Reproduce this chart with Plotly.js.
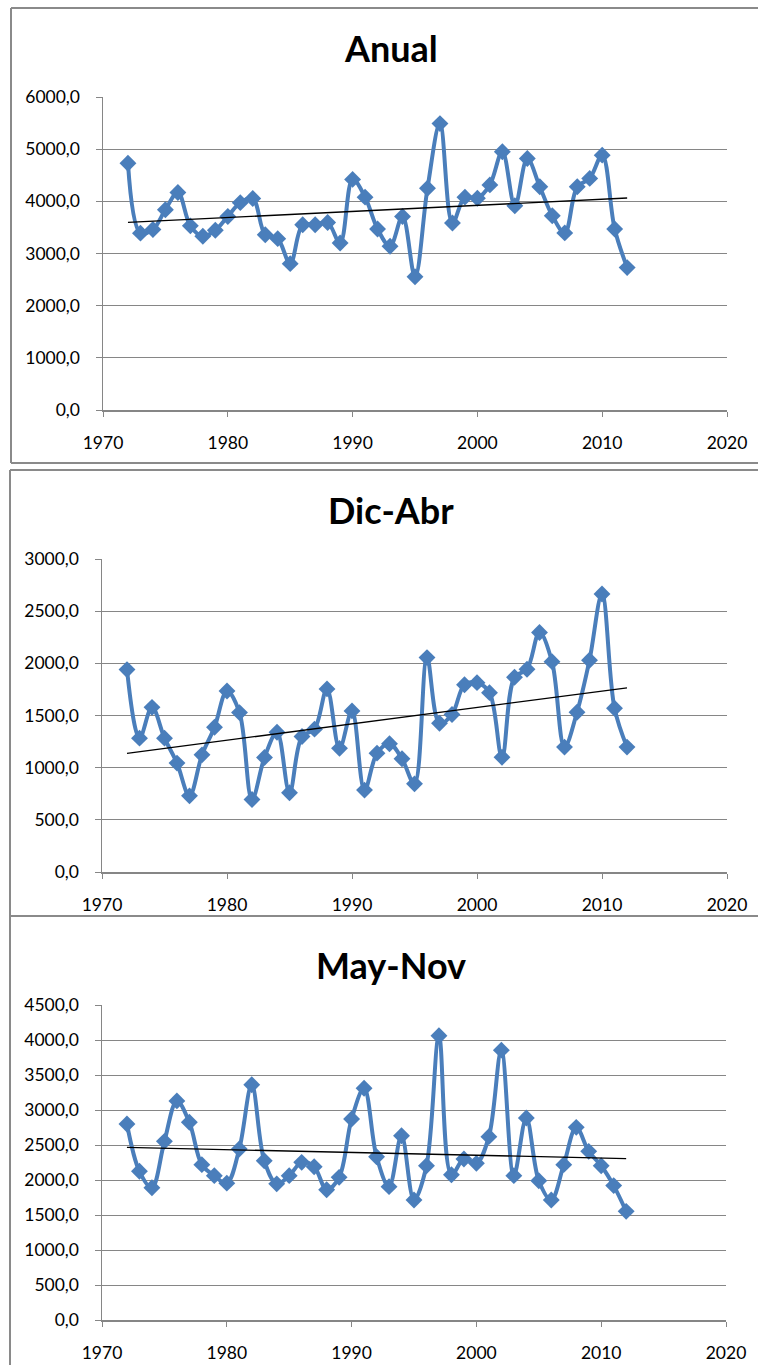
<!DOCTYPE html>
<html>
<head>
<meta charset="utf-8">
<script src="https://cdn.plot.ly/plotly-3.0.1.min.js"></script>
<style>html,body{margin:0;padding:0;background:#fff;}#chart{width:758px;height:1365px;}</style>
</head>
<body>
<div id="chart"></div>
<script>
const years = [1972,1973,1974,1975,1976,1977,1978,1979,1980,1981,1982,1983,1984,1985,1986,1987,1988,1989,1990,1991,1992,1993,1994,1995,1996,1997,1998,1999,2000,2001,2002,2003,2004,2005,2006,2007,2008,2009,2010,2011,2012];

const anual = [4730,3390,3460,3840,4170,3530,3330,3445,3710,3975,4055,3360,3285,2805,3550,3550,3595,3200,4420,4080,3470,3140,3710,2555,4250,5490,3585,4080,4060,4315,4950,3915,4820,4280,3725,3395,4280,4440,4885,3470,2730];

const dicAbr = [1940,1283,1578,1283,1044,730,1123,1388,1735,1528,695,1098,1340,760,1299,1369,1755,1185,1544,785,1139,1229,1085,845,2055,1425,1510,1795,1815,1719,1100,1866,1943,2295,2016,1197,1531,2030,2665,1570,1197];

const mayNov = [2800,2124,1890,2552,3130,2824,2219,2062,1955,2443,3360,2276,1945,2062,2252,2190,1860,2038,2871,3310,2333,1905,2633,1715,2204,4060,2076,2300,2238,2619,3855,2062,2886,1990,1715,2219,2752,2409,2204,1920,1552];

const titles = ["Anual", "Dic-Abr", "May-Nov"];
const yMax = [6000, 3000, 4500];
const yStep = [1000, 500, 500];
const xTicks = [1970, 1980, 1990, 2000, 2010, 2020];

const W = 758, H = 1365;
const fx = p => p / W;
const fy = p => 1 - p / H;

function linfit(xs, ys) {
  const n = xs.length;
  let sx = 0, sy = 0, sxx = 0, sxy = 0;
  for (let i = 0; i < n; i++) { sx += xs[i]; sy += ys[i]; sxx += xs[i]*xs[i]; sxy += xs[i]*ys[i]; }
  const b = (n*sxy - sx*sy) / (n*sxx - sx*sx);
  const a = (sy - b*sx) / n;
  return [a, b];
}

const series = [anual, dicAbr, mayNov];
const plotBoxes = [
  {x0: 103, x1: 727, y0: 97, y1: 410},
  {x0: 102, x1: 727, y0: 559, y1: 872},
  {x0: 102, x1: 726, y0: 1005, y1: 1320}
];
const titleY = [48, 510, 965];

const blue = '#4A7EBB';
const grey = '#868686';
const traces = [];
const layout = {
  width: W, height: H,
  margin: {l: 0, r: 0, t: 0, b: 0},
  paper_bgcolor: '#fff', plot_bgcolor: '#fff',
  separators: ',.',
  showlegend: false,
  font: {family: 'Lato, sans-serif', color: '#000'},
  annotations: [],
  shapes: []
};

series.forEach((vals, i) => {
  const s = i === 0 ? '' : String(i + 1);
  traces.push({
    type: 'scatter', mode: 'lines+markers',
    x: years, y: vals,
    xaxis: 'x' + s, yaxis: 'y' + s,
    line: {color: blue, width: 4, shape: 'spline', smoothing: 1},
    marker: {symbol: 'diamond', size: 13, color: blue},
    hoverinfo: 'x+y'
  });
  const [a, b] = linfit(years, vals);
  const xe = [years[0], years[years.length - 1]];
  traces.push({
    type: 'scatter', mode: 'lines',
    x: xe, y: xe.map(v => a + b * v),
    xaxis: 'x' + s, yaxis: 'y' + s,
    line: {color: '#000', width: 1.3},
    hoverinfo: 'skip'
  });
  const box = plotBoxes[i];
  layout['xaxis' + s] = {
    domain: [fx(box.x0), fx(box.x1)],
    anchor: 'y' + s,
    range: [1970, 2020],
    tickvals: xTicks,
    ticktext: xTicks.map(String),
    showgrid: false, zeroline: false,
    showline: true, linecolor: grey, linewidth: 1.5,
    ticks: 'outside', ticklen: 5, tickcolor: grey, tickwidth: 1,
    ticklabelstandoff: 11,
    tickfont: {family: 'Lato, sans-serif', size: 17.5, color: '#000'},
    fixedrange: true
  };
  const yt = [];
  for (let v = 0; v <= yMax[i]; v += yStep[i]) yt.push(v);
  layout['yaxis' + s] = {
    domain: [fy(box.y1), fy(box.y0)],
    anchor: 'x' + s,
    range: [0, yMax[i]],
    tickvals: yt,
    tickformat: '.1f',
    showgrid: true, gridcolor: grey, gridwidth: 1,
    zeroline: false,
    showline: true, linecolor: grey, linewidth: 1.5,
    ticks: 'outside', ticklen: 6, tickcolor: grey, tickwidth: 1,
    ticklabelstandoff: 12,
    tickfont: {family: 'Lato, sans-serif', size: 17.5, color: '#000'},
    fixedrange: true
  };
  layout.annotations.push({
    xref: 'paper', yref: 'paper',
    x: fx(391), y: fy(titleY[i]),
    xanchor: 'center', yanchor: 'middle',
    text: titles[i], showarrow: false,
    font: {family: 'Lato, sans-serif', size: 36, weight: 700, color: '#000'}
  });
});

const border = {color: '#8A8A8A', width: 2};
function seg(x0, y0, x1, y1) {
  layout.shapes.push({type: 'line', xref: 'paper', yref: 'paper',
    x0: fx(x0), y0: fy(y0), x1: fx(x1), y1: fy(y1), line: border});
}
// panel 1 frame
seg(11, 8, 11, 463); seg(11, 8, 758, 8); seg(11, 463, 758, 463);
// panel 2 frame
seg(10, 470, 10, 916); seg(10, 470, 758, 470); seg(10, 916, 758, 916);
// panel 3 frame
seg(10, 916, 10, 1365);

Plotly.newPlot('chart', traces, layout, {staticPlot: true, displayModeBar: false});
</script>
</body>
</html>
